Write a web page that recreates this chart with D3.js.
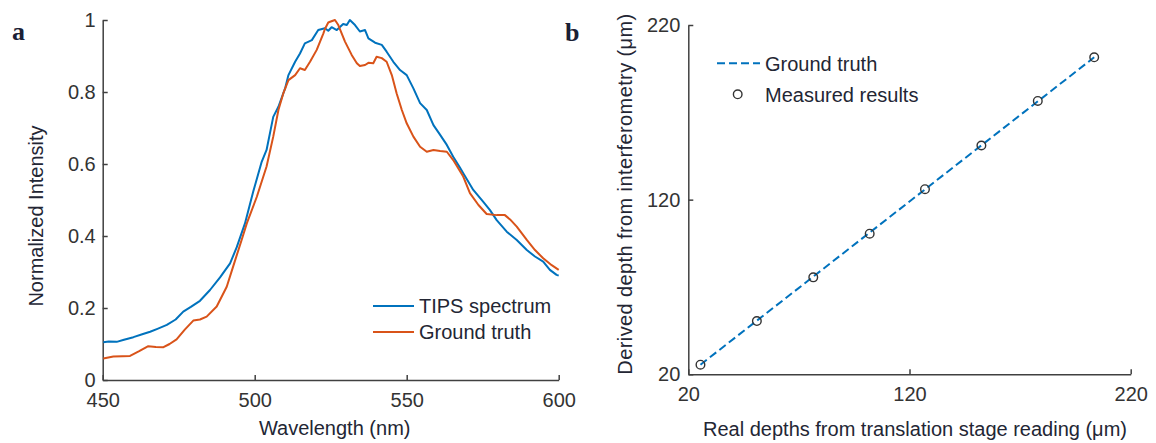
<!DOCTYPE html>
<html>
<head>
<meta charset="utf-8">
<script src="https://cdn.jsdelivr.net/npm/d3@7"></script>
<style>
  html, body { margin: 0; padding: 0; background: #fff; }
  svg { display: block; }
  text { font-family: Arial, "Liberation Sans", Helvetica, sans-serif; }
  text.panel { font-family: "Liberation Serif", "Times New Roman", serif; font-weight: bold; }
</style>
</head>
<body>
<svg id="chart" width="1156" height="443"></svg>
<script>
// ---------- Panel a data ----------
const tipsWavelength = [450.2,452,454.6,457,460.1,463,465.6,468,471.1,474,476.5,479,482,485.3,488.6,491.9,494.1,496.8,499.5,502.3,503.9,506.1,507.8,510,511.1,513.3,514.9,516.5,518.8,520.9,523.1,524.2,525.3,527,529.1,530.3,531.3,533,534.6,536.3,537.4,539.6,541.8,543.4,545.6,547.8,550,552.2,554.4,556.6,558.8,561,563.2,565.3,567.5,568.6,571.9,575.2,577.4,579.6,582.9,586.2,589.5,592.2,594.9,597.1,599.3,600];
const tipsIntensity  = [0.105,0.107,0.106,0.112,0.119,0.127,0.134,0.142,0.153,0.168,0.19,0.203,0.22,0.25,0.285,0.324,0.369,0.435,0.523,0.606,0.639,0.731,0.759,0.81,0.847,0.884,0.907,0.935,0.944,0.972,0.977,0.97,0.98,0.972,0.989,0.986,1.0,0.986,0.968,0.972,0.949,0.937,0.931,0.912,0.884,0.861,0.847,0.81,0.769,0.75,0.708,0.681,0.653,0.62,0.59,0.574,0.528,0.495,0.472,0.444,0.412,0.389,0.361,0.343,0.329,0.306,0.292,0.29];

const gtWavelength = [450.2,453.5,456.5,459,462,465,467.5,470,472,474.3,477,479.8,482,484.2,487.5,490.8,492.9,495.7,497.4,500.7,503.9,506.1,507.8,509.4,511.1,513.3,514.9,516.5,518.2,520.4,521.5,522.6,523.1,524.2,524.8,526.4,527.5,529.7,531.9,533.6,534.6,536.3,537.4,539,540.1,541.8,543.4,545.1,546.7,548.4,550,552.2,554.4,556.6,558.8,561,563.2,565.3,568.6,570.8,573.6,576.3,579.6,582.3,584,586.2,589.5,592.2,594.9,597.7,600];
const gtIntensity  = [0.06,0.065,0.066,0.067,0.08,0.094,0.092,0.091,0.1,0.113,0.14,0.165,0.168,0.176,0.204,0.259,0.315,0.389,0.435,0.509,0.593,0.676,0.75,0.796,0.833,0.847,0.866,0.861,0.884,0.917,0.94,0.963,0.975,0.993,0.995,1.0,0.986,0.94,0.903,0.88,0.872,0.875,0.881,0.88,0.898,0.894,0.884,0.847,0.796,0.75,0.713,0.676,0.648,0.634,0.639,0.636,0.634,0.611,0.565,0.519,0.486,0.461,0.458,0.458,0.446,0.426,0.389,0.361,0.338,0.319,0.306];

const aXTicks = [450, 500, 550, 600];
const aYTicks = [0, 0.2, 0.4, 0.6, 0.8, 1];
const aSeriesNames = ["TIPS spectrum", "Ground truth"];

// ---------- Panel b data ----------
const realDepth     = [25.5, 51, 76.5, 102, 127, 152.5, 178, 203.5];
const derivedDepth  = [25.5, 50.5, 75.5, 100.5, 126, 151, 176.5, 201.5];
const truthX = [25.5, 203.5];
const truthY = [25.5, 201.5];
const bTicks = [20, 120, 220];
const bSeriesNames = ["Ground truth", "Measured results"];

const BLUE = "#0072BD", ORANGE = "#D95319", AX = "#404040", TXT = "#232634";
const FS = 20;

const svg = d3.select("#chart");

function styleAxis(g) {
  g.select(".domain").attr("stroke", AX).attr("stroke-width", 1.5);
  g.selectAll(".tick line").attr("stroke", AX).attr("stroke-width", 1.5);
  g.selectAll(".tick text").attr("fill", "#333").attr("font-size", FS);
}

// ================= Panel a =================
const ax = d3.scaleLinear().domain([450, 600]).range([102.7, 558.7]);
const ay = d3.scaleLinear().domain([0, 1]).range([380, 20]);

svg.append("g").attr("transform", `translate(0,${ay(0)})`)
  .call(d3.axisBottom(ax).tickValues(aXTicks).tickSizeInner(-5).tickSizeOuter(0).tickPadding(13).tickFormat(d3.format("d")))
  .call(styleAxis);
svg.append("g").attr("transform", `translate(${ax(450)},0)`)
  .call(d3.axisLeft(ay).tickValues(aYTicks).tickSizeInner(-5).tickSizeOuter(0).tickPadding(7).tickFormat(d => d3.format("~g")(d)))
  .call(styleAxis);

const aLine = d3.line().x(d => ax(d[0])).y(d => ay(d[1]));
const tipsData = tipsWavelength.map((w, i) => [w, tipsIntensity[i]]);
const gtData = gtWavelength.map((w, i) => [w, gtIntensity[i]]);

svg.append("path").datum(tipsData).attr("d", aLine)
  .attr("fill", "none").attr("stroke", BLUE).attr("stroke-width", 2).attr("stroke-linejoin", "round");
svg.append("path").datum(gtData).attr("d", aLine)
  .attr("fill", "none").attr("stroke", ORANGE).attr("stroke-width", 2).attr("stroke-linejoin", "round");

// legend a
const aLeg = svg.append("g");
[BLUE, ORANGE].forEach((c, i) => {
  const y = 306 + i * 26;
  aLeg.append("line").attr("x1", 373).attr("x2", 414).attr("y1", y).attr("y2", y)
    .attr("stroke", c).attr("stroke-width", 2);
  aLeg.append("text").attr("x", 419).attr("y", y).attr("dy", "0.36em")
    .attr("font-size", FS).attr("fill", TXT).text(aSeriesNames[i]);
});

svg.append("text").attr("x", (ax.range()[0] + ax.range()[1]) / 2 + 4).attr("y", 435)
  .attr("text-anchor", "middle").attr("font-size", FS).attr("fill", TXT).text("Wavelength (nm)");
svg.append("text").attr("transform", `translate(43,216) rotate(-90)`)
  .attr("text-anchor", "middle").attr("font-size", FS).attr("fill", TXT).text("Normalized Intensity");

svg.append("text").attr("class", "panel").attr("x", 12).attr("y", 40)
  .attr("font-size", 26).attr("fill", "#1a2035").text("a");

// ================= Panel b =================
const bx = d3.scaleLinear().domain([20, 220]).range([688.3, 1130.7]);
const by = d3.scaleLinear().domain([20, 220]).range([374.3, 25]);

svg.append("g").attr("transform", `translate(0,${by(20)})`)
  .call(d3.axisBottom(bx).tickValues(bTicks).tickSizeInner(-5).tickSizeOuter(0).tickPadding(13).tickFormat(d3.format("d")))
  .call(styleAxis);
svg.append("g").attr("transform", `translate(${bx(20)},0)`)
  .call(d3.axisLeft(by).tickValues(bTicks).tickSizeInner(-5).tickSizeOuter(0).tickPadding(8).tickFormat(d3.format("d")))
  .call(styleAxis);

const bLine = d3.line().x(d => bx(d[0])).y(d => by(d[1]));
svg.append("path").datum(truthX.map((x, i) => [x, truthY[i]])).attr("d", bLine)
  .attr("fill", "none").attr("stroke", BLUE).attr("stroke-width", 2).attr("stroke-dasharray", "8,4");

svg.append("g").selectAll("circle").data(realDepth.map((x, i) => [x, derivedDepth[i]]))
  .join("circle").attr("cx", d => bx(d[0])).attr("cy", d => by(d[1])).attr("r", 4.3)
  .attr("fill", "none").attr("stroke", "#333").attr("stroke-width", 1.4);

// legend b
const bLeg = svg.append("g");
bLeg.append("line").attr("x1", 717).attr("x2", 760).attr("y1", 63.3).attr("y2", 63.3)
  .attr("stroke", BLUE).attr("stroke-width", 2).attr("stroke-dasharray", "8,4");
bLeg.append("text").attr("x", 765).attr("y", 63.3).attr("dy", "0.36em").attr("font-size", FS).attr("fill", TXT).text(bSeriesNames[0]);
bLeg.append("circle").attr("cx", 737.7).attr("cy", 94.3).attr("r", 4.3)
  .attr("fill", "none").attr("stroke", "#333").attr("stroke-width", 1.4);
bLeg.append("text").attr("x", 765).attr("y", 94.3).attr("dy", "0.36em").attr("font-size", FS).attr("fill", TXT).text(bSeriesNames[1]);

svg.append("text").attr("x", 915).attr("y", 436)
  .attr("text-anchor", "middle").attr("font-size", FS).attr("fill", TXT).text("Real depths from translation stage reading (μm)");
svg.append("text").attr("transform", `translate(631.5,194) rotate(-90)`)
  .attr("text-anchor", "middle").attr("font-size", FS).attr("letter-spacing", "0.4px").attr("fill", TXT).text("Derived depth from interferometry (μm)");

svg.append("text").attr("class", "panel").attr("x", 565).attr("y", 41)
  .attr("font-size", 26).attr("fill", "#1a2035").text("b");
</script>
</body>
</html>
